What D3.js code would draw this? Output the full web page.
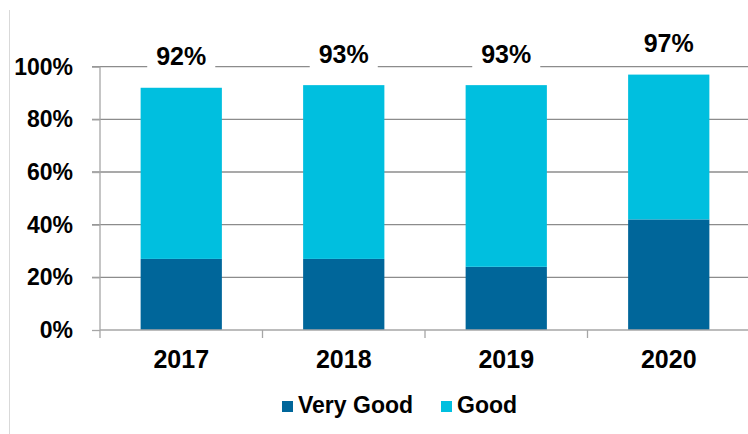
<!DOCTYPE html>
<html><head><meta charset="utf-8">
<script src="https://cdn.jsdelivr.net/npm/d3@7"></script>
<style>body{margin:0;background:#fff}svg{display:block}text{font-family:"Liberation Sans",Arial,sans-serif;font-weight:bold;fill:#000}</style>
</head><body><svg id="c" width="748" height="434"></svg>
<script>
const categories = ["2017", "2018", "2019", "2020"];
const veryGood = [27, 27, 24, 42];
const good = [65, 66, 69, 55];
const totals = [92, 93, 93, 97];
const yTicks = [0, 20, 40, 60, 80, 100];
const seriesNames = ["Very Good", "Good"];
const colors = ["#00669a", "#00bfdf"];

(function () {
const svg = d3.select("#c");
const pL = 100, pR = 750, pT = 66.7, pB = 330;
const x = d3.scaleBand().domain(categories).range([pL, pR]).paddingInner(0.5).paddingOuter(0.25);
const y = d3.scaleLinear().domain([0, 100]).range([pB, pT]);

svg.append("line").attr("x1", 9.5).attr("x2", 9.5).attr("y1", 10).attr("y2", 434).attr("stroke", "#d9d9d9");

svg.append("g").selectAll("line").data(yTicks.filter(d => d > 0)).join("line")
  .attr("x1", pL - 8).attr("x2", 748).attr("y1", d => y(d)).attr("y2", d => y(d))
  .attr("stroke", "#8c8c8c").attr("stroke-width", 1.3);

const yAxis = svg.append("g").attr("transform", `translate(${pL},0)`)
  .call(d3.axisLeft(y).tickValues(yTicks).tickFormat(d => d + "%").tickSize(8).tickPadding(19));
yAxis.select(".domain").attr("stroke", "#a6a6a6").attr("stroke-width", 1.3).attr("d", `M0,${pT}V${pB + 8}`);
yAxis.selectAll(".tick line").attr("stroke", "#a6a6a6").attr("stroke-width", 1.3);
yAxis.selectAll(".tick text").attr("font-size", 23).attr("font-family", "Liberation Sans, Arial, sans-serif").attr("font-weight", "bold").attr("fill", "#000");

const rows = categories.map((c, i) => ({cat: c, "Very Good": veryGood[i], "Good": good[i]}));
const stack = d3.stack().keys(seriesNames)(rows);
svg.append("g").selectAll("g").data(stack).join("g").attr("fill", (d, i) => colors[i])
  .selectAll("rect").data(d => d).join("rect")
  .attr("x", d => x(d.data.cat)).attr("width", x.bandwidth())
  .attr("y", d => y(d[1])).attr("height", d => y(d[0]) - y(d[1]));

svg.append("line").attr("x1", pL).attr("x2", 748).attr("y1", pB).attr("y2", pB).attr("stroke", "#a6a6a6").attr("stroke-width", 1.3);
svg.append("g").selectAll("line").data(categories.slice(1)).join("line")
  .attr("x1", d => x(d) - x.step() * x.paddingInner() / 2).attr("x2", d => x(d) - x.step() * x.paddingInner() / 2)
  .attr("y1", pB).attr("y2", pB + 8).attr("stroke", "#a6a6a6").attr("stroke-width", 1.3);
svg.append("g").selectAll("text").data(categories).join("text")
  .attr("x", d => x(d) + x.bandwidth() / 2).attr("y", 368).attr("text-anchor", "middle").attr("font-size", 25).text(d => d);

const lg = svg.append("g");
categories.forEach((c, i) => {
  const g = lg.append("g");
  const t = g.append("text").attr("x", x(c) + x.bandwidth() / 2).attr("y", y(totals[i]) - 22.5)
    .attr("text-anchor", "middle").attr("font-size", 25).text(totals[i] + "%");
  const b = t.node().getBBox();
  g.insert("rect", "text").attr("x", b.x - 9).attr("y", b.y - 2).attr("width", b.width + 18).attr("height", b.height + 4).attr("fill", "#fff");
});

const legend = svg.append("g");
const lx = [282, 441];
seriesNames.forEach((s, i) => {
  legend.append("rect").attr("x", lx[i]).attr("y", 401).attr("width", 11).attr("height", 11).attr("fill", colors[i]);
  legend.append("text").attr("x", lx[i] + 16).attr("y", 412.5).attr("font-size", 23).text(s);
});
})();
</script></body></html>
